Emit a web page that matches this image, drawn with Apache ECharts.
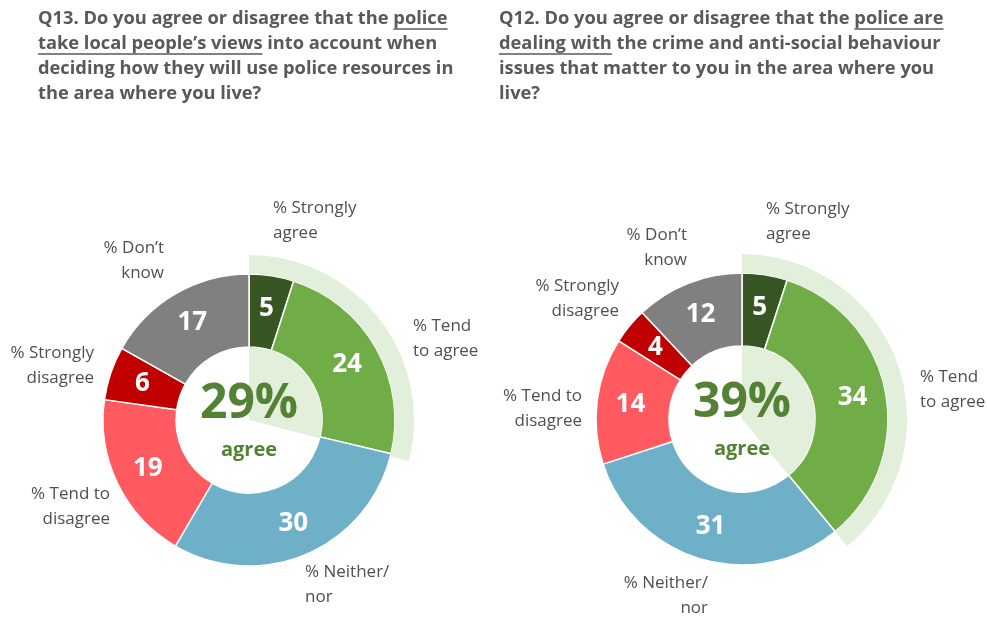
<!DOCTYPE html>
<html>
<head>
<meta charset="utf-8">
<script src="https://cdn.jsdelivr.net/npm/echarts@6/dist/echarts.min.js"></script>
<style>
  html, body { margin: 0; padding: 0; background: #ffffff; }
  #chart { width: 987px; height: 618px; }
</style>
</head>
<body>
<div id="chart"></div>
<script>
// Response categories, clockwise from 12 o'clock
const categories = ['% Strongly\nagree', '% Tend\nto agree', '% Neither/\nnor', '% Tend to\ndisagree', '% Strongly\ndisagree', '% Don\u2019t\nknow'];

// Q13 – police take local people's views into account
const q13Values = [5, 24, 30, 19, 6, 17];
// Q12 – police are dealing with the issues that matter
const q12Values = [5, 34, 31, 14, 4, 12];

// Question text, one entry per line; `u` marks the underlined phrase
const q13Title = [
  { pre: 'Q13. Do you agree or disagree that the ', u: 'police', post: '' },
  { pre: '', u: 'take local people\u2019s views', post: ' into account when' },
  { pre: 'deciding how they will use police resources in', u: '', post: '' },
  { pre: 'the area where you live?', u: '', post: '' }
];
const q12Title = [
  { pre: 'Q12. Do you agree or disagree that the ', u: 'police are', post: '' },
  { pre: '', u: 'dealing with', post: ' the crime and anti-social behaviour' },
  { pre: 'issues that matter to you in the area where you', u: '', post: '' },
  { pre: 'live?', u: '', post: '' }
];

const colors = ['#375623', '#70AD47', '#6FB0C9', '#FF5A5F', '#C00000', '#808080'];
const bandColor = '#E2EFDA';
const accent = '#548235';

const titleFont = '"Open Sans", "Noto Sans", sans-serif';
const titleSize = 18.3;
const labelFont = '"Open Sans", "Noto Sans", sans-serif';

// Layout of each donut: centre, radii and category label anchors
const layouts = [
  { values: q13Values, title: q13Title, titleX: 38, center: [249, 420],
    anchors: [[273, 221, 'left'], [413, 339, 'left'], [305, 585, 'left'],
              [110, 507, 'right'], [94, 366, 'right'], [164, 261, 'right']] },
  { values: q12Values, title: q12Title, titleX: 499, center: [742, 419],
    anchors: [[766, 222, 'left'], [920, 390, 'left'], [708, 596, 'right'],
              [582, 409, 'right'], [619, 299, 'right'], [687, 248, 'right']] }
];

const rIn = 73, rOut = 146, rBand = 165;

const measureCtx = document.createElement('canvas').getContext('2d');
function textWidth(str) {
  measureCtx.font = 'bold ' + titleSize + 'px ' + titleFont;
  return measureCtx.measureText(str).width;
}

const series = [];
const graphic = [];

layouts.forEach(function (L) {
  const agree = L.values[0] + L.values[1];

  // Main donut ring
  series.push({
    type: 'pie', silent: true, animation: false,
    center: L.center, radius: [rIn, rOut], startAngle: 90, clockwise: true,
    avoidLabelOverlap: false,
    itemStyle: { borderColor: '#ffffff', borderWidth: 1.5 },
    label: { show: true, position: 'inside', formatter: '{c}', color: '#ffffff',
             fontFamily: titleFont, fontWeight: 'bold', fontSize: 26 },
    labelLine: { show: false },
    data: L.values.map(function (v, i) {
      return { name: categories[i], value: v, itemStyle: { color: colors[i] } };
    })
  });

  // Outer band spanning the combined "agree" share
  series.push({
    type: 'pie', silent: true, animation: false,
    center: L.center, radius: [rOut, rBand], startAngle: 90,
    label: { show: false }, labelLine: { show: false },
    data: [
      { value: agree, itemStyle: { color: bandColor } },
      { value: 100 - agree, itemStyle: { color: 'rgba(0,0,0,0)' } }
    ]
  });

  // Inner wedge in the donut hole for the same share
  series.push({
    type: 'pie', silent: true, animation: false,
    center: L.center, radius: [0, rIn], startAngle: 90,
    label: { show: false }, labelLine: { show: false },
    data: [
      { value: agree, itemStyle: { color: bandColor } },
      { value: 100 - agree, itemStyle: { color: 'rgba(0,0,0,0)' } }
    ]
  });

  // Centre figure
  graphic.push({
    type: 'text', x: L.center[0], y: L.center[1] - 16, z: 100,
    style: { text: agree + '%', fill: accent, font: 'bold 48px ' + titleFont,
             align: 'center', verticalAlign: 'middle' }
  });
  graphic.push({
    type: 'text', x: L.center[0], y: L.center[1] + 30, z: 100,
    style: { text: 'agree', fill: accent, font: 'bold 20px ' + titleFont,
             align: 'center', verticalAlign: 'middle' }
  });

  // Category labels around the ring
  L.anchors.forEach(function (a, i) {
    graphic.push({
      type: 'text', x: a[0], y: a[1], z: 100,
      style: { text: categories[i], fill: '#505050', font: '17px ' + labelFont,
               align: a[2], verticalAlign: 'middle', lineHeight: 25 }
    });
  });

  // Question text with underlined key phrase
  L.title.forEach(function (line, k) {
    const y = 19 + k * 25;
    const full = line.pre + line.u + line.post;
    graphic.push({
      type: 'text', x: L.titleX, y: y, z: 100,
      style: { text: full, fill: '#595959', font: 'bold ' + titleSize + 'px ' + titleFont,
               align: 'left', verticalAlign: 'middle' }
    });
    if (line.u) {
      const x0 = L.titleX + textWidth(line.pre);
      const x1 = x0 + textWidth(line.u);
      graphic.push({
        type: 'line', z: 100,
        shape: { x1: x0, y1: y + 10, x2: x1, y2: y + 10 },
        style: { stroke: '#595959', lineWidth: 1.5 }
      });
    }
  });
});

const chart = echarts.init(document.getElementById('chart'), null, { renderer: 'canvas' });
chart.setOption({
  backgroundColor: '#ffffff',
  animation: false,
  series: series,
  graphic: graphic
});
</script>
</body>
</html>
